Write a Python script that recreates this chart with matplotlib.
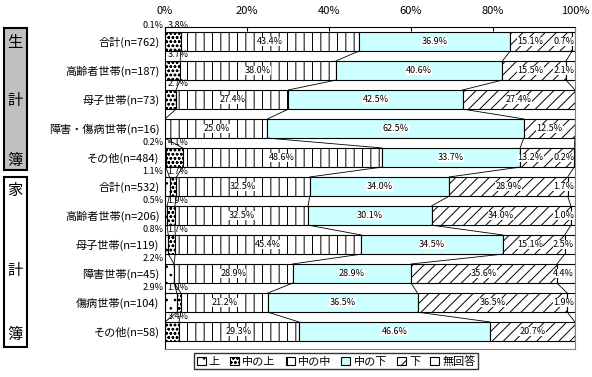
import matplotlib.pyplot as plt
import matplotlib.patches as mpatches
import numpy as np

plt.rcParams['font.family'] = ['Noto Sans CJK JP', 'DejaVu Sans']
plt.rcParams['hatch.linewidth'] = 0.7

# category rows (top to bottom)
categories = ['合計(n=762)', '高齢者世帯(n=187)', '母子世帯(n=73)', '障害・傷病世帯(n=16)', 'その他(n=484)',
              '合計(n=532)', '高齢者世帯(n=206)', '母子世帯(n=119)', '障害世帯(n=45)', '傷病世帯(n=104)', 'その他(n=58)']
series = ['上', '中の上', '中の中', '中の下', '下', '無回答']

ue = [0.1, 0.0, 0.0, 0.0, 0.2, 1.1, 0.5, 0.8, 2.2, 2.9, 0.0]
naka_ue = [3.8, 3.7, 2.7, 0.0, 4.1, 1.7, 1.9, 1.7, 0.0, 1.0, 3.4]
naka_naka = [43.4, 38.0, 27.4, 25.0, 48.6, 32.5, 32.5, 45.4, 28.9, 21.2, 29.3]
naka_shita = [36.9, 40.6, 42.5, 62.5, 33.7, 34.0, 30.1, 34.5, 28.9, 36.5, 46.6]
shita = [15.1, 15.5, 27.4, 12.5, 13.2, 28.9, 34.0, 15.1, 35.6, 36.5, 20.7]
mukaito = [0.7, 2.1, 0.0, 0.0, 0.2, 1.7, 1.0, 2.5, 4.4, 1.9, 0.0]

data = np.array([ue, naka_ue, naka_naka, naka_shita, shita, mukaito])
styles = [('white', '..'), ('white', 'oooo'), ('white', '||'),
          ('#ccffff', ''), ('white', '///'), ('white', '')]

fig = plt.figure(figsize=(5.92, 3.77), dpi=100)
ax = fig.add_axes([0.2787, 0.0743, 0.6926, 0.8541])

y = np.arange(len(categories))
h = 0.66
left = np.zeros(len(categories))
handles = []
for k, name in enumerate(series):
    fc, hatch = styles[k]
    b = ax.barh(y, data[k], left=left, height=h, color=fc, hatch=hatch,
                edgecolor='black', linewidth=0.8, label=name)
    handles.append(b)
    left = left + data[k]

cum = np.vstack([np.zeros(len(categories)), np.cumsum(data, axis=0)])

# series lines between rows
for i in range(len(categories) - 1):
    for k in range(1, 6):
        ax.plot([cum[k, i], cum[k, i + 1]], [i + h / 2, i + 1 - h / 2],
                color='black', lw=0.6)

# value labels
fs = 6.5
for i in range(len(categories)):
    for k in range(6):
        v = data[k, i]
        if v == 0:
            continue
        txt = f'{v:.1f}%'
        if k == 0:
            ax.text(-0.4, i - h / 2 - 0.05, txt, ha='right', va='bottom',
                    fontsize=fs, clip_on=False)
        elif k == 1:
            ax.text(0.6, i - h / 2 - 0.05, txt, ha='left', va='bottom',
                    fontsize=fs, clip_on=False)
        elif k == 5:
            ax.text(99.8, i, txt, ha='right', va='center', fontsize=fs,
                    bbox=dict(fc='white', ec='none', pad=0.1))
        else:
            x = (cum[k, i] + cum[k + 1, i]) / 2
            if k == 4 and data[5, i] > 0:
                x = min(x, 99.8 - 7.5 - 3.2)
            ax.text(x, i, txt, ha='center', va='center', fontsize=fs,
                    bbox=dict(fc='white', ec='none', pad=0.1))

ax.set_xlim(0, 100)
ax.set_ylim(10.6, -0.5)
ax.set_yticks(y)
ax.set_yticklabels(categories, fontsize=8)
ax.tick_params(axis='y', length=0, pad=4)
ax.xaxis.tick_top()
ax.set_xticks([0, 20, 40, 60, 80, 100])
ax.set_xticklabels(['0%', '20%', '40%', '60%', '80%', '100%'], fontsize=8)
ax.tick_params(axis='x', direction='in', length=3, pad=8)
for s in ['bottom', 'right']:
    ax.spines[s].set_color('gray')

# left group boxes
W, H = 592, 377
def vbox(y0, y1, chars, fc, ys):
    r = mpatches.Rectangle((4 / W, 1 - y1 / H), 23 / W, (y1 - y0) / H,
                           transform=fig.transFigure, fc=fc, ec='black', lw=1.5)
    fig.patches.append(r)
    for c, yy in zip(chars, ys):
        fig.text(15 / W, 1 - yy / H, c, ha='center', va='center', fontsize=11)

vbox(28, 170, '生計簿', '#c0c0c0', [42, 100, 160])
vbox(177, 347, '家計簿', 'white', [190, 270, 335])

leg = fig.legend(handles=handles, labels=series, loc='center', ncol=6,
                 bbox_to_anchor=(0.568, 0.042), fontsize=8, frameon=True,
                 fancybox=False, edgecolor='black', handlelength=0.8,
                 handleheight=0.8, handletextpad=0.3, columnspacing=0.9,
                 borderpad=0.2)
leg.get_frame().set_linewidth(1.0)

fig.savefig('out.png', dpi=100)
